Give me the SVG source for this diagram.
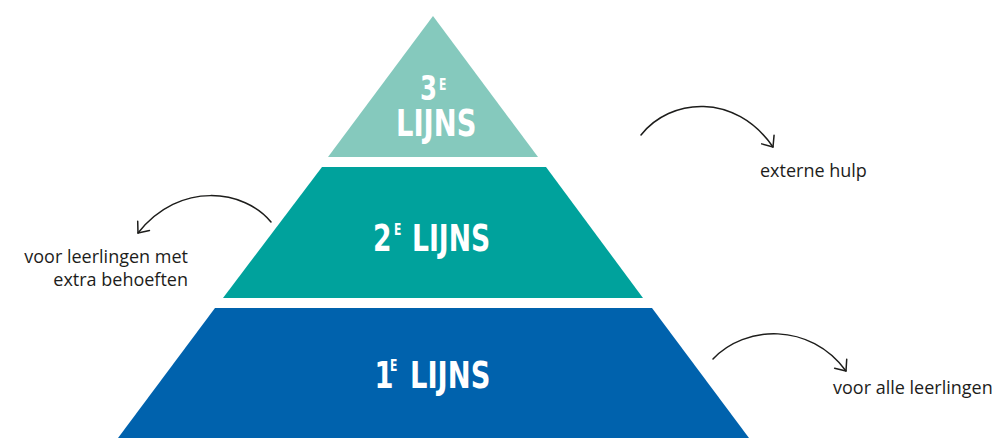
<svg xmlns="http://www.w3.org/2000/svg" width="995" height="438" viewBox="0 0 995 438">
  <style>
    .lvl { font-family: "DejaVu Sans", "Liberation Sans", sans-serif; font-weight: bold; fill: #ffffff; }
    .lbl { font-family: "Open Sans", "Liberation Sans", sans-serif; font-size: 18px; fill: #1d1d1b; }
    .arc { fill: none; stroke: #1d1d1b; stroke-width: 1.5; stroke-linecap: round; }
  </style>
  <defs>
    <marker id="open" markerUnits="userSpaceOnUse" viewBox="-12 -10 14 20" refX="0" refY="0" markerWidth="14" markerHeight="20" orient="auto" overflow="visible">
      <path d="M-9,-7.5 L0,0 L-9,7.5" fill="none" stroke="#1d1d1b" stroke-width="1.5" stroke-linecap="round" stroke-linejoin="round"/>
    </marker>
  </defs>
  <rect width="995" height="438" fill="#ffffff"/>

  <g id="lijn3">
    <polygon points="433,16 328,157 538,157" fill="#85c9bd"/>
    <text class="lvl" transform="scale(0.72,1)"><tspan x="583.3" y="100" font-size="34" letter-spacing="-3">3</tspan><tspan x="609.7" y="90" font-size="15">E</tspan><tspan x="550" y="136" font-size="38">LIJNS</tspan></text>
  </g>

  <g id="lijn2">
    <polygon points="322,167 546,167 643,298 223,298" fill="#00a29c"/>
    <text class="lvl" transform="scale(0.72,1)"><tspan x="518.1" y="251" font-size="37" letter-spacing="-3">2</tspan><tspan x="547.2" y="235" font-size="15">E</tspan><tspan x="572.2" y="251" font-size="37">LIJNS</tspan></text>
  </g>

  <g id="lijn1">
    <polygon points="215,308 652,308 749,438 118,438" fill="#0062ad"/>
    <text class="lvl" transform="scale(0.72,1)"><tspan x="520" y="388" font-size="38" letter-spacing="-8">1</tspan><tspan x="541.7" y="371" font-size="15">E</tspan><tspan x="569.4" y="388" font-size="38">LIJNS</tspan></text>
  </g>

  <g id="label-extern">
    <text class="lbl" x="760" y="177">externe hulp</text>
  </g>
  <g id="label-extra">
    <text class="lbl" x="188" y="263" text-anchor="end">voor leerlingen met</text>
    <text class="lbl" x="188" y="286" text-anchor="end">extra behoeften</text>
  </g>
  <g id="label-alle">
    <text class="lbl" x="833" y="394">voor alle leerlingen</text>
  </g>

  <g id="connectors">
    <path class="arc" d="M641,135 C670,98 735,92 773,147" marker-end="url(#open)"/>
    <path class="arc" d="M271,222 C245,190 180,180 138,233" marker-end="url(#open)"/>
    <path class="arc" d="M713,359 C745,325 810,322 846,371" marker-end="url(#open)"/>
  </g>
</svg>
